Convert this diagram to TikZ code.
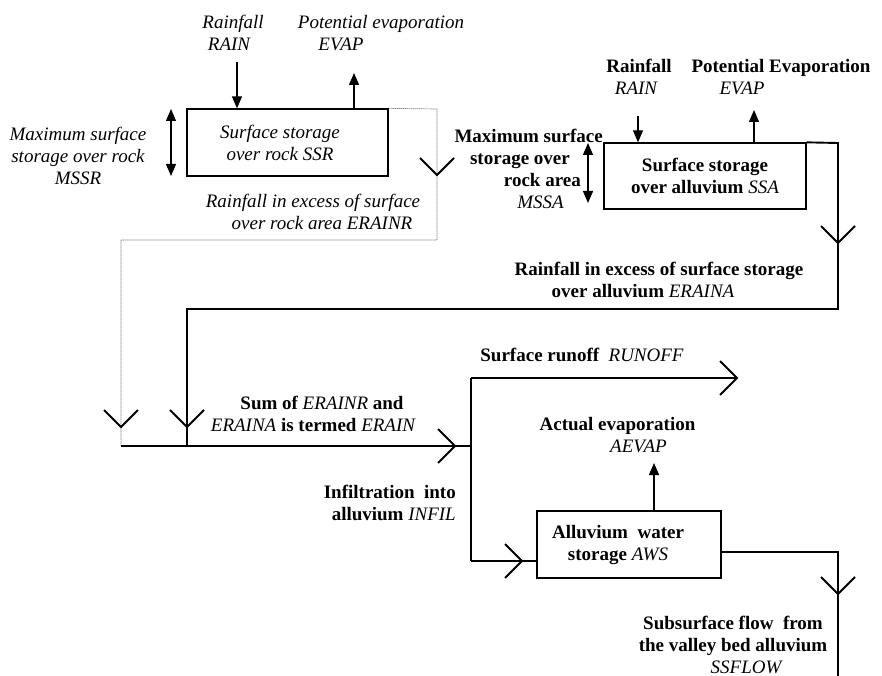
\documentclass[tikz,border=0pt]{standalone}
\usepackage{fontspec}
\setmainfont{Liberation Serif}
\usetikzlibrary{arrows.meta}
\newcommand\varit[1]{{\normalfont\itshape #1}}
\newcommand\padr[1]{\hspace*{#1}\null}
\begin{document}
\begin{tikzpicture}[x=1pt,y=-1pt,
  every node/.style={font=\fontsize{19}{22}\selectfont, inner sep=0pt, align=center},
  it/.style={font=\fontsize{19}{22}\selectfont\itshape},
  bf/.style={font=\fontsize{19}{22}\selectfont\bfseries},
  box/.style={draw, line width=1.3pt, inner sep=0pt},
  flow/.style={line width=1.9pt},
  arr/.style={line width=1.3pt, -{Triangle[width=10pt,length=12pt]}},
  darr/.style={line width=1.3pt, {Triangle[width=10pt,length=12pt]}-{Triangle[width=10pt,length=12pt]}},
  dots/.style={line width=0.7pt, black!75, dash pattern=on 1pt off 1pt},
  vdown/.pic={\draw[line width=1.9pt] (-17,-17) -- (0,0) -- (17,-17);},
  vright/.pic={\draw[line width=1.9pt] (-17,-17) -- (0,0) -- (-17,17);},
]
\useasboundingbox (0,0) rectangle (882,676);

% ---- top-left: surface storage over rock
\node[box, it, minimum width=201pt, minimum height=67pt] (ssr) at (287.5,142.5) {Surface storage\padr{15pt}\\over rock SSR\padr{15pt}};
\node[it] (rainR) at (233,33) {Rainfall\\RAIN\padr{8pt}};
\node[it] (evapR) at (381,33) {Potential evaporation\\EVAP\padr{80pt}};
\coordinate (r1) at (237,62);
\draw[arr] (r1) -- (r1 |- ssr.north);
\coordinate (e1) at (354,73);
\draw[arr] (e1 |- ssr.north) -- (e1);
\coordinate (m1) at (171,109);
\coordinate (m2) at (171,176);
\draw[darr] (m1) -- (m2);
\node[it] (mssr) at (78,156) {Maximum surface\\storage over rock\\MSSR};
\node[it] (erainr) at (313,212) {Rainfall in excess of surface\\\hspace*{18pt}over rock area ERAINR};
\coordinate (d1) at (437,109);
\coordinate (d2) at (437,240);
\coordinate (d3) at (121,240);
\coordinate (j1) at (121,446);
\draw[dots] (ssr.north east) -- (d1) -- (d2) -- (d3) -- (j1);
\pic at (437,175) {vdown};

% ---- top-right: surface storage over alluvium
\node[box, bf, minimum width=202pt, minimum height=66pt] (ssa) at (705,176) {Surface storage\\over alluvium \varit{SSA}};
\node[bf] (rainA) at (639,77) {Rainfall\\\varit{RAIN}\padr{6pt}};
\node[bf] (evapA) at (781,77) {Potential Evaporation\\\varit{EVAP}\padr{78pt}};
\coordinate (r2) at (638,116);
\draw[arr] (r2) -- (r2 |- ssa.north);
\coordinate (e2) at (754,110);
\draw[arr] (e2 |- ssa.north) -- (e2);
\coordinate (m3) at (588,143);
\coordinate (m4) at (588,203);
\draw[darr] (m3) -- (m4);
\node[bf, align=right, anchor=east] (mssa) at (603,168.5) {Maximum surface\\storage over\padr{33pt}\\rock area\padr{22pt}\\\varit{MSSA}\padr{39pt}};
\coordinate (c1) at (838,143);
\coordinate (c2) at (838,309);
\coordinate (c3) at (187,309);
\coordinate (j2) at (187,446);
\draw[flow] (ssa.north east) -- (c1) -- (c2) -- (c3) -- (j2);
\pic at (838,243) {vdown};
\node[bf] (eraina) at (659,279.5) {Rainfall in excess of surface storage\\over alluvium \varit{ERAINA}\padr{32pt}};

% ---- middle: combined excess rainfall
\coordinate (j3) at (471,446);
\draw[flow] (j1) -- (j3);
\pic at (121,427) {vdown};
\pic at (187,427) {vdown};
\pic at (455,446) {vright};
\node[bf] (erain) at (313,413.5) {\hspace*{18pt}Sum of \varit{ERAINR} and\\\varit{ERAINA} is termed \varit{ERAIN}};

% ---- bottom: alluvium water storage
\node[box, bf, minimum width=184pt, minimum height=67pt] (aws) at (629,544.5) {Alluvium\ \ water\padr{22pt}\\storage \varit{AWS}\padr{22pt}};
\coordinate (b1) at (471,378);
\coordinate (b2) at (737,378);
\coordinate (b3) at (471,561);
\draw[flow] (b1) -- (b3);
\draw[flow] (b1) -- (b2);
\pic at (b2) {vright};
\draw[flow] (b3) -- (b3 -| aws.west);
\pic at (522,561) {vright};
\node[bf] (runoff) at (582,355) {Surface runoff\ \ \varit{RUNOFF}};
\coordinate (e3) at (654,463);
\draw[arr] (e3 |- aws.north) -- (e3);
\node[bf] (aevap) at (617.5,435.5) {Actual evaporation\\\hspace*{42pt}\varit{AEVAP}};
\node[bf, align=right, anchor=east] (infil) at (456,502.5) {Infiltration\ \ into\\alluvium \varit{INFIL}};
\coordinate (o1) at (838,552);
\coordinate (o2) at (838,676);
\draw[flow] (aws.east |- o1) -- (o1) -- (o2);
\pic at (838,594) {vdown};
\node[bf] (ssflow) at (733,645) {Subsurface flow\ \ from\\the valley bed alluvium\\\hspace*{26pt}\varit{SSFLOW}};
\end{tikzpicture}
\end{document}
